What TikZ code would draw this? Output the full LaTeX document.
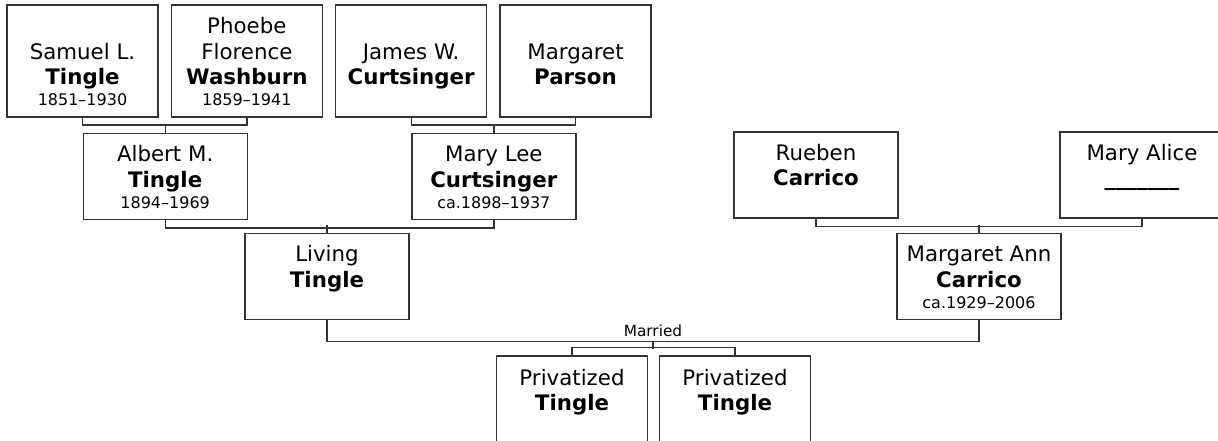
\documentclass[tikz,border=0pt]{standalone}
\usepackage{fontspec}
\setmainfont{DejaVu Sans}
\usetikzlibrary{positioning}

\newcommand{\namefont}{\fontsize{16}{19.2}\selectfont}
\newcommand{\yearfont}{\fontsize{12}{14.4}\selectfont}
% given names above, surname on the baseline, years below
\newcommand{\who}[3]{%
  \vtop{\baselineskip=15.75pt\lineskiplimit=-10pt
    \halign{\hfil##\hfil\cr
      \begin{tabular}[b]{@{}c@{}}#1\\\textbf{#2}\end{tabular}\cr
      \yearfont #3\cr}}}

\begin{document}
\begin{tikzpicture}[
    x=0.75pt, y=-0.75pt,
    person/.style={rectangle, draw=black!80, line width=1pt, inner sep=0pt, font=\namefont, text depth=24pt},
    elder/.style={person, minimum width=113.25pt, text height=60pt},
    kin/.style={person, minimum width=123pt, text height=40.5pt},
    child/.style={person, minimum width=113.25pt, text height=41.25pt, text depth=23.25pt},
    link/.style={draw=black!80, line width=1pt}
  ]
  \useasboundingbox (0,0) rectangle (1218,441);
  \clip (0,0) rectangle (1218,441);

  % great-grandparents
  \node[elder] (samuel) at (82.5,61) {\who{Samuel L.}{Tingle}{1851--1930}};
  \node[elder, right=9pt of samuel] (phoebe) {\who{Phoebe\\Florence}{Washburn}{1859--1941}};
  \node[elder, right=9pt of phoebe] (james) {\who{James W.}{Curtsinger}{}};
  \node[elder, right=9pt of james] (parson) {\who{Margaret}{Parson}{}};

  % grandparents
  \node[kin, below right=11.25pt and 0pt of samuel.south] (albert) {\who{Albert M.}{Tingle}{1894--1969}};
  \node[kin, below right=11.25pt and 0pt of james.south] (marylee) {\who{Mary Lee}{Curtsinger}{ca.1898--1937}};
  \node[kin] (rueben) at (816,175) {\who{Rueben}{Carrico}{}};
  \node[kin] (maryalice) at (1142,175) {\who{Mary Alice}{\_\_\_\_\_\_\_}{}};

  % parents
  \node[kin] (living) at (327,276.5) {\who{Living}{Tingle}{}};
  \node[kin] (margaret) at (979,276.5) {\who{Margaret Ann}{Carrico}{ca.1929--2006}};

  % children
  \node[child] (kid1) at (572,399) {\who{Privatized}{Tingle}{}};
  \node[child] (kid2) at (735,399) {\who{Privatized}{Tingle}{}};

  \draw[link] (samuel.south) -- ++(0,7.5) -| (phoebe.south);
  \draw[link] (albert.north) -- ++(0,-7.5);
  \draw[link] (james.south) -- ++(0,7.5) -| (parson.south);
  \draw[link] (marylee.north) -- ++(0,-7.5);
  \draw[link] (albert.south) -- ++(0,8) -| (marylee.south);
  \draw[link] (living.north) -- ++(0,-8);
  \draw[link] (rueben.south) -- ++(0,8) -| (maryalice.south);
  \draw[link] (margaret.north) -- ++(0,-8);
  \draw[link] (living.south) -- ++(0,21.5) coordinate (wl) -- (wl -| margaret.south)
    coordinate[midway] (wed) node[midway, above=2.5pt, inner sep=1pt, font=\fontsize{11.5}{13.8}\selectfont] {Married}
    -- (margaret.south);
  \draw[link] (wed) -- ++(0,7);
  \draw[link] (kid1.north) -- ++(0,-8) -| (kid2.north);
\end{tikzpicture}
\end{document}
